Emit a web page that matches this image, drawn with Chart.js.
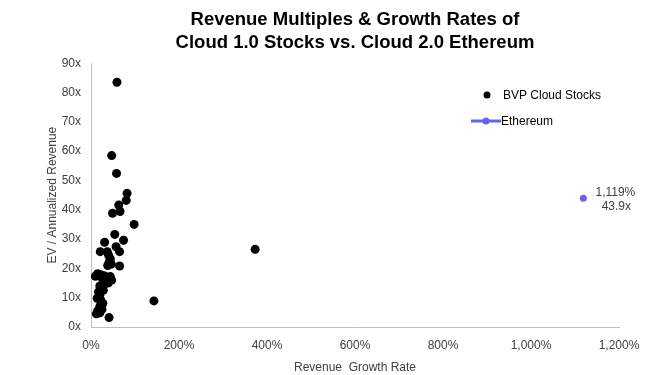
<!DOCTYPE html>
<html>
<head>
<meta charset="utf-8">
<script src="https://cdn.jsdelivr.net/npm/chart.js@4"></script>
<style>
  html, body { margin: 0; padding: 0; background: #fff; }
  #wrap { width: 666px; height: 375px; position: relative; }
</style>
</head>
<body>
<div id="wrap"><canvas id="cloudChart"></canvas></div>
<script>
// Revenue growth (%) and EV / annualized revenue (x) for the BVP cloud stocks
const stockGrowth = [59, 47, 58, 82, 80, 63, 66, 49, 98, 54, 74, 31, 57, 21, 37, 65, 373, 143,
    40, 44, 41, 38, 46, 65, 10, 15, 22, 30, 37, 44, 47, 39, 30, 20, 24, 17, 28, 20, 14, 22,
    27, 20, 25, 15, 12, 20, 41, 33, 26];
const stockMultiple = [83.5, 58.5, 52.4, 45.6, 43.2, 41.6, 39.4, 38.8, 35.0, 31.6, 29.6, 28.9, 27.4, 25.7, 25.7, 25.7, 26.5, 8.9,
    24.5, 23.2, 22.0, 21.0, 21.5, 20.8, 17.3, 18.2, 17.8, 17.5, 17.0, 17.2, 16.0, 15.0, 14.6, 14.0, 13.0, 12.0, 12.5, 10.8, 9.8, 9.2,
    8.0, 7.0, 6.0, 5.5, 4.5, 4.8, 3.2, 15.8, 16.5];

const ethGrowth = [1119];
const ethMultiple = [43.9];

const xTicks = [0, 200, 400, 600, 800, 1000, 1200];
const yTicks = [0, 10, 20, 30, 40, 50, 60, 70, 80, 90];

const titleLines = ["Revenue Multiples & Growth Rates of", "Cloud 1.0 Stocks vs. Cloud 2.0 Ethereum"];

const FONT = "'Liberation Sans', Arial, sans-serif";
const ETH_COLOR = "#6464f2";

document.addEventListener("DOMContentLoaded", function () {
    const canvas = document.getElementById("cloudChart");
    const ctx = canvas.getContext("2d");

    const stockPoints = stockGrowth.map((g, i) => ({ x: g, y: stockMultiple[i] }));
    const ethPoints = ethGrowth.map((g, i) => ({ x: g, y: ethMultiple[i] }));

    // legend drawn inside plot, plus value label next to Ethereum point
    const extras = {
        id: "extras",
        afterDatasetsDraw(chart) {
            const c = chart.ctx;
            c.save();
            c.font = "12px " + FONT;
            c.textBaseline = "middle";

            // legend
            c.fillStyle = "#000";
            c.beginPath();
            c.arc(487, 95, 3.5, 0, Math.PI * 2);
            c.fill();
            c.fillText("BVP Cloud Stocks", 503, 96);

            c.strokeStyle = ETH_COLOR;
            c.lineWidth = 3;
            c.beginPath();
            c.moveTo(471, 121);
            c.lineTo(501, 121);
            c.stroke();
            c.fillStyle = ETH_COLOR;
            c.beginPath();
            c.arc(486, 121, 3.5, 0, Math.PI * 2);
            c.fill();
            c.fillStyle = "#000";
            c.fillText("Ethereum", 501, 122);

            // data label
            const pt = chart.getDatasetMeta(1).data[0];
            c.fillStyle = "#404040";
            c.textAlign = "center";
            const xl = ethGrowth[0].toLocaleString("en-US") + "%";
            const yl = ethMultiple[0].toFixed(1) + "x";
            c.fillText(xl, pt.x + 32, pt.y - 6);
            c.fillText(yl, pt.x + 33, pt.y + 8);
            c.restore();
        },
    };

    new Chart(ctx, {
        type: "scatter",
        data: {
            datasets: [
                {
                    label: "BVP Cloud Stocks",
                    data: stockPoints,
                    backgroundColor: "#000",
                    borderColor: "#000",
                    pointRadius: 4.5,
                    pointBorderWidth: 0,
                },
                {
                    label: "Ethereum",
                    data: ethPoints,
                    backgroundColor: ETH_COLOR,
                    borderColor: ETH_COLOR,
                    pointRadius: 3.5,
                    pointBorderWidth: 0,
                    showLine: true,
                },
            ],
        },
        options: {
            responsive: true,
            maintainAspectRatio: false,
            animation: false,
            layout: { padding: { left: 0, right: 47, top: 0, bottom: 0 } },
            scales: {
                x: {
                    type: "linear",
                    min: 0,
                    max: 1200,
                    afterBuildTicks: (s) => { s.ticks = xTicks.map((v) => ({ value: v })); },
                    afterFit: (s) => { s.height = 48; },
                    grid: { display: false, drawTicks: false },
                    border: { display: true, color: "#bfbfbf", width: 1 },
                    ticks: {
                        padding: 11,
                        color: "#404040",
                        font: { family: FONT, size: 12 },
                        callback: (v) => v.toLocaleString("en-US") + "%",
                        maxRotation: 0,
                    },
                    title: {
                        display: true,
                        text: "Revenue  Growth Rate",
                        color: "#404040",
                        font: { family: FONT, size: 12 },
                        padding: { top: 1, bottom: 0 },
                    },
                },
                y: {
                    type: "linear",
                    min: 0,
                    max: 90,
                    afterBuildTicks: (s) => { s.ticks = yTicks.map((v) => ({ value: v })); },
                    afterFit: (s) => { s.width = 91; },
                    grid: { display: false, drawTicks: false },
                    border: { display: true, color: "#bfbfbf", width: 1 },
                    ticks: {
                        padding: 10,
                        color: "#404040",
                        font: { family: FONT, size: 12 },
                        callback: (v) => v + "x",
                    },
                    title: {
                        display: true,
                        text: "EV / Annualized Revenue",
                        color: "#404040",
                        font: { family: FONT, size: 12 },
                        padding: { top: 45, bottom: 0 },
                    },
                },
            },
            plugins: {
                legend: { display: false },
                tooltip: { enabled: false },
                title: {
                    display: true,
                    fullSize: false,
                    text: titleLines,
                    color: "#000",
                    font: { family: FONT, size: 18.5, weight: "bold", lineHeight: 1.25 },
                    padding: { top: 8, bottom: 9 },
                },
            },
        },
        plugins: [extras],
    });
});
</script>
</body>
</html>
